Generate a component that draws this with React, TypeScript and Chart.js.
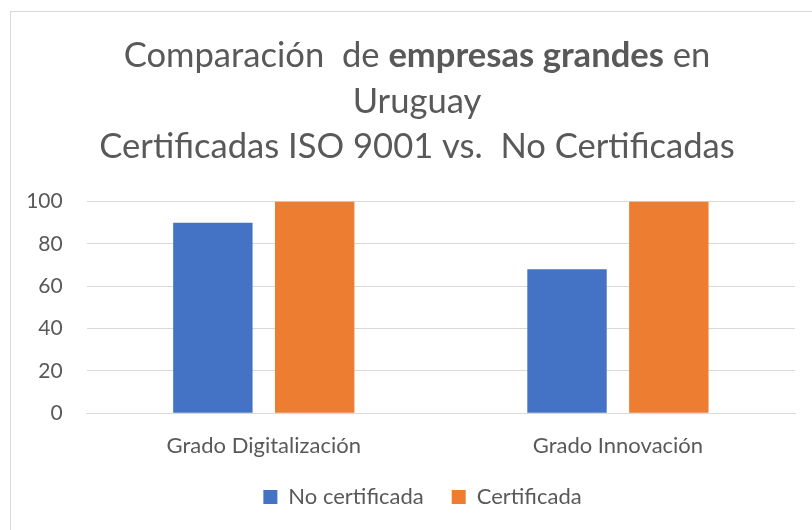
import React, { useEffect, useRef } from 'react';
import { Chart, registerables } from 'chart.js';

Chart.register(...registerables);

const categories = ['Grado Digitalización', 'Grado Innovación'];
const seriesNames = ['No certificada', 'Certificada'];
const noCertificada = [90, 68];
const certificada = [100, 100];
const yMin = 0;
const yMax = 100;
const yStep = 20;
const titleLine1 = [
  { text: 'Comparación  de ', bold: false },
  { text: 'empresas grandes', bold: true },
  { text: ' en', bold: false },
];
const titleLine2 = 'Uruguay';
const titleLine3 = 'Certificadas ISO 9001 vs.  No Certificadas';

const FONT = 'Lato, "Open Sans", sans-serif';
const TEXT = '#595959';
const GRID = '#d9d9d9';
const BLUE = '#4472C4';
const ORANGE = '#ED7D31';

const framePlugin = {
  id: 'frameAndTitle',
  afterLayout(chart: any) {
    if (chart.legend) {
      chart.legend.left += 20;
      chart.legend.right += 20;
    }
  },
  beforeDraw(chart: any) {
    const ctx = chart.ctx;
    ctx.save();
    ctx.fillStyle = '#ffffff';
    ctx.fillRect(0, 0, chart.width, chart.height);
    ctx.strokeStyle = GRID;
    ctx.lineWidth = 1;
    ctx.strokeRect(10.5, 11.5, 900, 900);
    ctx.restore();
  },
  afterDraw(chart: any) {
    const ctx = chart.ctx;
    const cx = 417;
    const size = 34.6;
    const normal = `${size}px ${FONT}`;
    const bold = `bold ${size}px ${FONT}`;
    ctx.save();
    ctx.fillStyle = TEXT;
    ctx.textBaseline = 'alphabetic';
    ctx.textAlign = 'left';
    let total = 0;
    for (const part of titleLine1) {
      ctx.font = part.bold ? bold : normal;
      total += ctx.measureText(part.text).width;
    }
    let x = cx - total / 2;
    for (const part of titleLine1) {
      ctx.font = part.bold ? bold : normal;
      ctx.fillText(part.text, x, 67);
      x += ctx.measureText(part.text).width;
    }
    ctx.font = normal;
    ctx.textAlign = 'center';
    ctx.fillText(titleLine2, cx, 112.5);
    ctx.fillText(titleLine3, cx, 158);
    ctx.restore();
  },
};

export default function App() {
  const ref = useRef<HTMLCanvasElement>(null);
  useEffect(() => {
    if (!ref.current) return;
    const chart = new Chart(ref.current, {
      type: 'bar',
      data: {
        labels: categories,
        datasets: [
          { label: seriesNames[0], data: noCertificada, backgroundColor: BLUE, borderWidth: 0 },
          { label: seriesNames[1], data: certificada, backgroundColor: ORANGE, borderWidth: 0 },
        ],
      },
      options: {
        responsive: false,
        animation: false,
        devicePixelRatio: 1,
        categoryPercentage: 0.575,
        barPercentage: 0.78,
        layout: { padding: { left: 10, right: 17, top: 201.5, bottom: 12 } },
        plugins: {
          title: { display: false },
          tooltip: { enabled: false },
          legend: {
            position: 'bottom',
            labels: {
              boxWidth: 14,
              boxHeight: 14,
              padding: 28,
              color: TEXT,
              font: { family: FONT, size: 22 },
            },
          },
        },
        scales: {
          x: {
            grid: { display: false, drawTicks: false },
            border: { display: true, color: GRID, width: 1 },
            ticks: { color: TEXT, font: { family: FONT, size: 22 }, padding: 19, maxRotation: 0 },
            afterFit: (s: any) => { s.height = 44.7; },
          },
          y: {
            min: yMin,
            max: yMax,
            grid: { color: GRID, drawTicks: false },
            border: { display: false },
            ticks: { stepSize: yStep, color: TEXT, font: { family: FONT, size: 21 }, padding: 24 },
            afterFit: (s: any) => { s.width = 76.7; },
          },
        },
      },
      plugins: [framePlugin],
    });
    return () => chart.destroy();
  }, []);
  return (
    <div style={{ position: 'fixed', left: 0, top: 0, width: 812, height: 530, background: '#fff' }}>
      <canvas ref={ref} width={812} height={530} />
    </div>
  );
}
